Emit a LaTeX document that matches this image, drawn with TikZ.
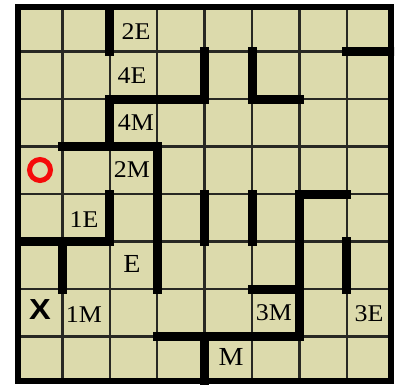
\documentclass[tikz,border=0pt]{standalone}
\usepackage{fontspec}
\setmainfont{Liberation Serif}
\newfontfamily\xfont{Liberation Sans}
\definecolor{cellfill}{RGB}{220,218,172}
\definecolor{gridline}{RGB}{40,40,35}
\definecolor{ringred}{RGB}{245,10,10}
\tikzset{
  thinline/.style={draw=gridline,line width=2.4pt},
  wall/.style={draw=black,line width=9pt,line cap=rect},
  lbl/.style={inner sep=0pt,font=\fontsize{24}{24}\selectfont,xscale=1.08},
  biglbl/.style={inner sep=0pt,font=\fontsize{26}{26}\selectfont,xscale=1.08},
  xlbl/.style={inner sep=0pt,font=\xfont\bfseries\fontsize{29}{29}\selectfont,xscale=1.12},
}
\begin{document}
\begin{tikzpicture}[x=1pt,y=-1pt]
\useasboundingbox (0,0) rectangle (399,386);
\begin{scope}[shift={(15,4)},x=47.4pt,y=-47.5pt]
  \fill[cellfill] (0,0) rectangle (8,8);
  \clip (0,0) rectangle (8,8);
  \foreach \i in {1,...,7} {
    \draw[thinline] (\i,0) -- (\i,8);
    \draw[thinline] (0,\i) -- (8,\i);
  }
  % vertical walls: line index / row
  \foreach \i/\r in {2/1,2/3,4/2,5/2,3/4,3/5,3/6,2/5,1/6,4/5,5/5,6/5,6/6,6/7,7/6,4/8}
    \draw[wall] (\i,\r-1) -- (\i,\r);
  % horizontal walls: line index / column
  \foreach \j/\c in {2/3,2/4,2/6,1/8,3/2,3/3,5/1,5/2,4/7,6/6,7/4,7/5,7/6}
    \draw[wall] (\c-1,\j) -- (\c,\j);
\end{scope}
\draw[line width=6pt] (18,7) rectangle (391.2,381);
\node[lbl] (l2E) at (136,32) {2E};
\node[lbl] (l4E) at (132,76) {4E};
\node[lbl] (l4M) at (136,123) {4M};
\node[lbl] (l2M) at (132,170) {2M};
\node[lbl] (l1E) at (84,220) {1E};
\node[biglbl] (lE) at (132,264) {E};
\node[xlbl] (lX) at (40,310) {X};
\node[lbl] (l1M) at (84,315) {1M};
\node[lbl] (l3M) at (274,313) {3M};
\node[lbl] (l3E) at (369,314) {3E};
\node[biglbl] (lM) at (231,357) {M};
\draw[ringred,line width=5pt] (40,170) circle (10.5);
\end{tikzpicture}
\end{document}
